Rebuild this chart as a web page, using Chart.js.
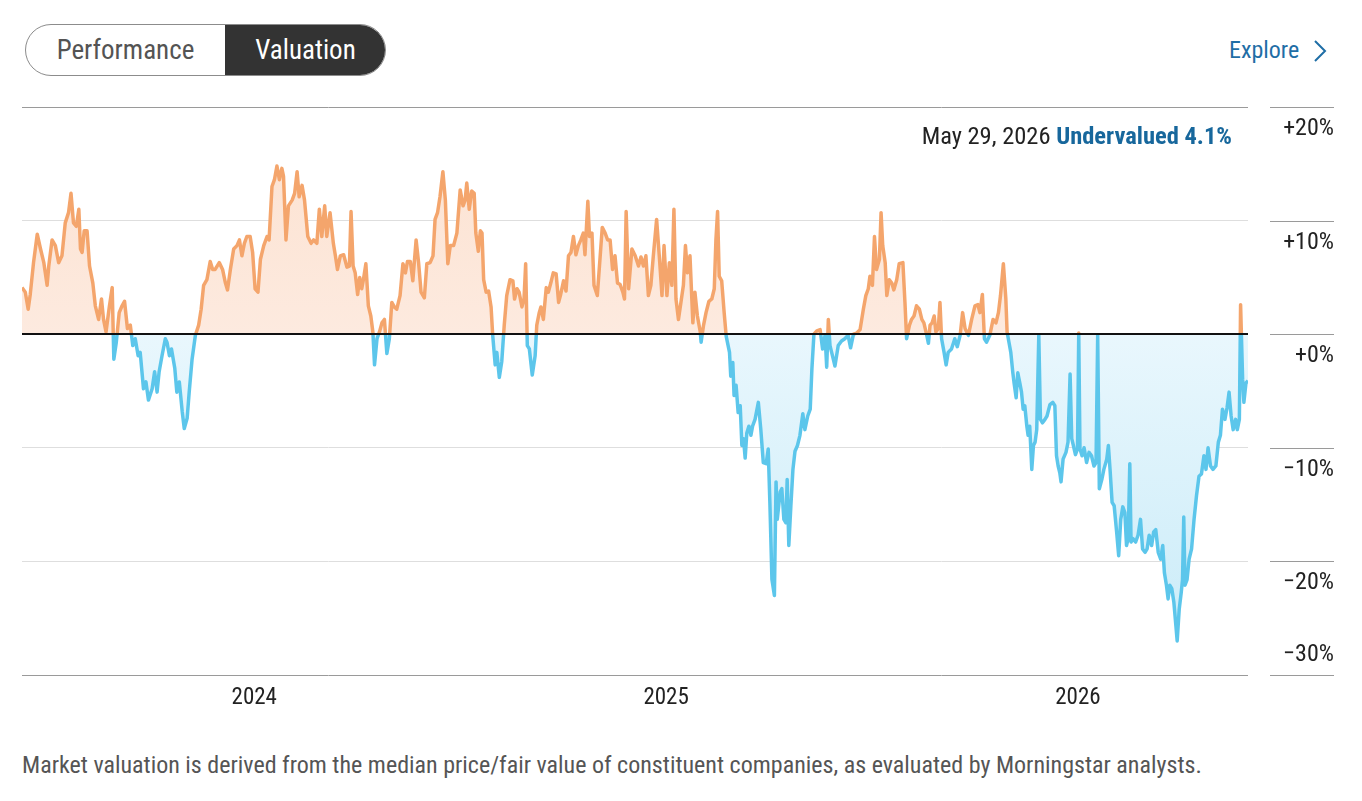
<!DOCTYPE html>
<html>
<head>
<meta charset="utf-8">
<script src="https://cdn.jsdelivr.net/npm/chart.js@4.4.1/dist/chart.umd.min.js"></script>
<style>
  html, body { margin:0; padding:0; background:#fff; }
  body { width:1362px; height:801px; position:relative; overflow:hidden;
         font-family: "Roboto Condensed", "DejaVu Sans Condensed", "Liberation Sans", sans-serif; }
  .toggle { position:absolute; left:25px; top:24px; width:361px; height:52px; box-sizing:border-box;
            border:1px solid #8c8c8c; border-radius:26px; overflow:hidden; }
  .toggle .perf { position:absolute; left:0; top:0; width:199px; height:50px; line-height:50px;
                  text-align:center; color:#545454; font-size:27px; }
  .toggle .val { position:absolute; left:199px; top:-1px; right:-1px; bottom:-1px; background:#333;
                 color:#fff; font-size:27px; text-align:center; line-height:52px; border-radius:0 26px 26px 0; }
  .explore { position:absolute; left:1229px; top:34px; color:#1f6ea6; font-size:24px; line-height:32px; }
  .chev { position:absolute; left:1312px; top:39px; }
  #wrap { position:absolute; left:0; top:90px; width:1362px; height:640px; }
  .note { position:absolute; right:130px; top:121px; font-size:24.5px; line-height:30px; color:#222; white-space:nowrap; }
  .note b { color:#17679c; }
  .foot { position:absolute; left:22px; top:752px; font-size:24px; line-height:26px; color:#555; white-space:nowrap; }
</style>
</head>
<body>
<div class="toggle"><div class="perf">Performance</div><div class="val">Valuation</div></div>
<div class="explore">Explore</div>
<svg class="chev" width="16" height="24" viewBox="0 0 16 24"><polyline points="3,2 13,12 3,22" fill="none" stroke="#1f6ea6" stroke-width="2"/></svg>
<div id="wrap"><canvas id="c" width="1362" height="640"></canvas></div>
<div class="note">May 29, 2026 <b>Undervalued 4.1%</b></div>
<div class="foot">Market valuation is derived from the median price/fair value of constituent companies, as evaluated by Morningstar analysts.</div>
<script>
const FONT = '"Roboto Condensed", "DejaVu Sans Condensed", "Liberation Sans", sans-serif';

// decimal-year dates of each observation
const dates = [
2023.436,2023.444,2023.451,2023.456,2023.464,2023.473,2023.481,2023.489,2023.497,2023.501,
2023.509,2023.517,2023.525,2023.533,2023.541,2023.549,2023.555,2023.561,2023.568,2023.574,
2023.578,2023.582,2023.587,2023.594,2023.600,2023.608,2023.614,2023.622,2023.629,2023.634,
2023.640,2023.648,2023.655,2023.659,2023.665,2023.672,2023.679,2023.685,2023.692,2023.699,
2023.705,2023.711,2023.718,2023.723,2023.731,2023.737,2023.743,2023.752,2023.758,2023.764,
2023.769,2023.776,2023.784,2023.788,2023.794,2023.799,2023.807,2023.812,2023.818,2023.825,
2023.830,2023.837,2023.842,2023.849,2023.857,2023.865,2023.871,2023.877,2023.885,2023.893,
2023.899,2023.905,2023.915,2023.923,2023.930,2023.935,2023.942,2023.950,2023.958,2023.964,
2023.970,2023.976,2023.982,2023.990,2023.996,2024.002,2024.009,2024.015,2024.023,2024.031,
2024.036,2024.043,2024.049,2024.055,2024.061,2024.067,2024.071,2024.077,2024.083,2024.092,
2024.098,2024.104,2024.109,2024.116,2024.122,2024.130,2024.138,2024.144,2024.152,2024.158,
2024.164,2024.171,2024.176,2024.184,2024.192,2024.197,2024.202,2024.209,2024.217,2024.225,
2024.231,2024.235,2024.240,2024.245,2024.251,2024.256,2024.261,2024.265,2024.271,2024.277,
2024.283,2024.288,2024.292,2024.298,2024.304,2024.310,2024.316,2024.322,2024.328,2024.334,
2024.340,2024.346,2024.354,2024.361,2024.367,2024.372,2024.379,2024.385,2024.393,2024.399,
2024.405,2024.413,2024.419,2024.427,2024.434,2024.439,2024.445,2024.451,2024.458,2024.464,
2024.470,2024.476,2024.484,2024.492,2024.500,2024.507,2024.512,2024.516,2024.522,2024.528,
2024.534,2024.538,2024.544,2024.549,2024.553,2024.557,2024.563,2024.569,2024.575,2024.579,
2024.585,2024.589,2024.595,2024.601,2024.607,2024.613,2024.621,2024.628,2024.632,2024.638,
2024.643,2024.650,2024.655,2024.659,2024.663,2024.668,2024.675,2024.682,2024.686,2024.692,
2024.696,2024.702,2024.709,2024.714,2024.720,2024.726,2024.733,2024.739,2024.744,2024.751,
2024.757,2024.763,2024.769,2024.775,2024.781,2024.787,2024.793,2024.799,2024.803,2024.810,
2024.814,2024.820,2024.825,2024.833,2024.840,2024.845,2024.852,2024.858,2024.864,2024.870,
2024.876,2024.882,2024.888,2024.895,2024.899,2024.903,2024.909,2024.917,2024.925,2024.933,
2024.939,2024.945,2024.951,2024.957,2024.963,2024.969,2024.977,2024.984,2024.990,2024.995,
2025.002,2025.008,2025.014,2025.019,2025.024,2025.030,2025.036,2025.042,2025.047,2025.052,
2025.058,2025.065,2025.070,2025.076,2025.083,2025.085,2025.091,2025.097,2025.104,2025.111,
2025.117,2025.121,2025.125,2025.129,2025.135,2025.141,2025.146,2025.154,2025.157,2025.162,
2025.165,2025.170,2025.175,2025.180,2025.184,2025.188,2025.192,2025.196,2025.201,2025.206,
2025.210,2025.216,2025.224,2025.230,2025.236,2025.243,2025.248,2025.252,2025.257,2025.263,
2025.267,2025.270,2025.277,2025.281,2025.286,2025.291,2025.294,2025.298,2025.303,2025.308,
2025.313,2025.319,2025.325,2025.332,2025.337,2025.344,2025.350,2025.354,2025.359,2025.366,
2025.374,2025.380,2025.386,2025.390,2025.394,2025.398,2025.406,2025.410,2025.418,2025.426,
2025.434,2025.442,2025.448,2025.455,2025.463,2025.471,2025.479,2025.485,2025.491,2025.495,
2025.501,2025.506,2025.511,2025.518,2025.522,2025.526,2025.532,2025.536,2025.542,2025.548,
2025.553,2025.560,2025.566,2025.575,2025.580,2025.584,2025.591,2025.596,2025.602,2025.608,
2025.615,2025.621,2025.626,2025.633,2025.637,2025.641,2025.646,2025.651,2025.655,2025.661,
2025.665,2025.669,2025.675,2025.680,2025.685,2025.693,2025.701,2025.707,2025.714,2025.720,
2025.726,2025.734,2025.742,2025.750,2025.757,2025.762,2025.768,2025.773,2025.778,2025.786,
2025.794,2025.801,2025.807,2025.812,2025.819,2025.825,2025.828,2025.833,2025.837,2025.842,
2025.845,2025.850,2025.854,2025.859,2025.863,2025.867,2025.871,2025.876,2025.879,2025.883,
2025.888,2025.892,2025.896,2025.900,2025.905,2025.909,2025.914,2025.920,2025.925,2025.932,
2025.939,2025.944,2025.948,2025.952,2025.956,2025.959,2025.964,2025.971,2025.976,2025.981,
2025.985,2025.989,2025.994,2025.999,2026.002,2026.005,2026.010,2026.015,2026.021,2026.027,
2026.033,2026.039,2026.044,2026.048,2026.052,2026.058,2026.063,2026.070,2026.074,2026.078,
2026.083,2026.088,2026.094,2026.099,2026.104,2026.109,2026.114,2026.118,2026.122,2026.126,
2026.129,2026.134,2026.140,2026.146,2026.152,2026.157,2026.163,2026.168,2026.173,2026.179,
2026.184,2026.189,2026.195,2026.201,2026.206,2026.210,2026.215,2026.219,2026.223,2026.228,
2026.233,2026.238,2026.241,2026.246,2026.251,2026.254,2026.257,2026.260,2026.265,2026.270,
2026.276,2026.282,2026.288,2026.294,2026.300,2026.306,2026.311,2026.316,2026.322,2026.328,
2026.335,2026.341,2026.346,2026.351,2026.357,2026.362,2026.367,2026.372,2026.377,2026.383,
2026.387,2026.392,2026.395,2026.400,2026.403,2026.408,2026.413
];

// market valuation: % premium (+) / discount (-) to fair value
const valuation = [
4.1,3.7,2.2,3.5,6.3,8.8,7.5,6.3,4.3,6.0,
8.3,7.8,6.3,6.9,9.8,10.7,12.4,9.8,9.5,11.0,
7.5,7.2,9.1,9.1,6.0,4.5,2.5,1.3,3.1,1.3,
0.2,2.4,4.1,-2.2,-0.7,1.9,2.5,2.9,0.5,0.8,
-1.0,-0.4,-1.9,-1.6,-4.8,-4.2,-5.8,-4.8,-3.3,-5.1,
-3.3,-1.9,-0.4,-0.7,-1.9,-1.3,-3.0,-5.1,-4.2,-6.8,
-8.3,-7.4,-5.1,-2.2,-0.1,0.8,2.2,4.3,4.8,6.4,
5.7,5.7,6.3,5.7,4.5,3.9,5.7,7.5,7.8,8.3,
6.9,8.0,8.6,8.6,7.2,4.0,3.7,6.6,7.8,8.6,
8.3,13.0,13.6,14.8,13.6,14.6,13.9,8.3,11.3,11.8,
12.4,14.3,12.1,13.1,11.8,8.6,8.0,8.3,8.0,11.0,
8.6,11.3,8.6,10.7,8.0,6.9,5.7,6.9,7.0,5.9,
6.0,10.8,6.0,5.4,3.5,5.0,4.0,4.8,6.2,2.5,
1.6,0.2,-2.7,-0.4,0.2,1.0,1.3,-1.7,-0.4,2.8,
2.4,2.2,3.4,6.2,5.4,6.4,6.4,4.7,8.3,6.3,
3.7,3.2,6.2,6.3,6.9,10.1,10.7,12.1,14.3,11.8,
6.2,7.8,7.8,8.9,12.7,11.3,11.8,13.3,11.0,12.6,
12.4,8.9,7.3,9.1,8.9,4.8,3.7,3.8,2.4,-0.1,
-2.7,-1.6,-3.8,-2.4,0.8,3.4,4.8,4.7,3.1,4.0,
3.7,2.4,3.1,6.2,-1.0,-1.3,-3.6,-1.9,0.8,1.9,
2.4,1.3,4.1,3.7,4.5,5.4,5.3,2.8,3.5,4.7,
3.8,6.9,7.2,8.6,7.0,7.8,8.3,8.9,7.0,11.7,
8.6,8.9,4.3,3.4,6.9,9.4,8.9,8.3,8.3,5.7,
6.9,4.5,4.4,3.7,3.1,10.8,4.0,7.5,6.9,6.0,
6.8,6.0,6.9,3.4,4.3,6.9,10.1,6.6,3.4,7.8,
3.4,6.3,4.3,11.0,3.1,1.3,2.8,4.3,7.8,5.4,
6.9,1.0,3.7,1.6,0.2,-0.7,0.8,1.9,2.9,3.1,
4.0,8.3,10.8,5.1,4.7,1.9,-0.2,-1.6,-3.7,-2.5,
-5.4,-4.5,-6.9,-6.3,-9.8,-9.2,-10.9,-8.7,-8.1,-8.9,
-8.1,-7.5,-6.0,-8.4,-11.3,-11.4,-10.1,-14.8,-21.6,-23.0,
-13.0,-16.3,-13.9,-13.6,-16.3,-16.6,-12.8,-18.6,-15.1,-11.9,
-10.3,-9.8,-8.9,-7.0,-8.4,-7.2,-6.6,-3.1,0.0,0.3,
0.4,-1.3,-0.1,-2.9,1.3,-1.0,-2.2,-2.8,-1.0,-0.6,
-0.4,-0.1,-1.2,0.0,0.1,0.4,2.2,3.4,4.0,5.1,
4.3,8.6,5.7,6.6,10.7,7.8,6.3,3.4,4.8,4.5,
3.9,4.8,6.2,6.3,2.8,-0.4,0.8,1.3,1.6,2.5,
2.2,1.3,1.0,-0.1,-0.8,0.8,1.0,1.6,0.2,0.5,
2.8,-0.4,-1.6,-2.7,-1.6,-1.3,-0.4,-1.1,-0.1,1.9,
0.5,-0.1,1.3,2.5,2.6,1.9,3.5,-0.4,-0.7,-0.1,
1.3,1.0,1.9,3.4,6.2,3.1,0.2,-0.8,-1.6,-3.4,
-4.3,-5.6,-3.4,-4.3,-5.1,-6.6,-6.3,-8.1,-8.9,-8.1,
-11.9,-9.8,-9.5,-8.4,-0.1,-7.5,-7.8,-7.5,-7.2,-6.2,
-6.0,-6.3,-10.7,-11.6,-12.2,-13.0,-11.0,-10.4,-9.5,-3.5,
-9.2,-9.8,-10.6,-10.1,0.1,-10.1,-10.7,-10.0,-11.3,-10.4,
-10.7,-11.6,-11.3,-0.1,-13.6,-12.8,-11.9,-11.0,-9.8,-11.9,
-14.8,-15.1,-17.4,-19.5,-16.3,-15.2,-15.7,-18.6,-18.0,-11.4,
-18.3,-18.0,-18.3,-17.7,-16.3,-18.9,-19.2,-18.9,-17.7,-18.6,
-17.4,-17.2,-19.2,-19.8,-18.6,-21.0,-22.1,-23.3,-22.1,-22.4,
-23.6,-25.7,-27.0,-24.2,-22.7,-21.6,-16.1,-22.1,-21.6,-19.8,
-18.9,-16.3,-14.2,-12.5,-12.3,-10.7,-11.9,-10.0,-11.6,-11.9,
-11.6,-9.5,-8.9,-6.6,-7.5,-6.5,-5.1,-7.2,-8.4,-7.5,
-8.4,-7.5,2.6,-4.0,-6.0,-4.3,-4.1
];

const xTickValues = [2024, 2025, 2026];
const xTickLabels = ['2024', '2025', '2026'];
const yTickValues = [20, 10, 0, -10, -20, -30];
const yTickLabels = ['+20%', '+10%', '+0%', '\u221210%', '\u221220%', '\u221230%'];

const ORANGE = '#F4A56C';
const BLUE = '#5CC6EB';

function splitGradient(chart, stops) {
  const {ctx, chartArea, scales} = chart;
  if (!chartArea || !scales.y) return null;
  const y0 = scales.y.getPixelForValue(0);
  const t = Math.min(1, Math.max(0, (y0 - chartArea.top) / (chartArea.bottom - chartArea.top)));
  const g = ctx.createLinearGradient(0, chartArea.top, 0, chartArea.bottom);
  g.addColorStop(0, stops[0]);
  g.addColorStop(t, stops[1]);
  g.addColorStop(t, stops[2]);
  g.addColorStop(1, stops[3]);
  return g;
}

const decor = {
  id: 'decor',
  afterDatasetsDraw(chart) {
    const {ctx, chartArea, scales: {y}} = chart;
    const y0 = Math.round(y.getPixelForValue(0));
    ctx.save();
    ctx.strokeStyle = '#111';
    ctx.lineWidth = 2;
    ctx.beginPath();
    ctx.moveTo(chartArea.left, y0);
    ctx.lineTo(chartArea.right, y0);
    ctx.stroke();
    // right-hand tick segments and labels
    ctx.font = '24px ' + FONT;
    ctx.fillStyle = '#222';
    ctx.textAlign = 'right';
    ctx.textBaseline = 'middle';
    yTickValues.forEach((v, i) => {
      const py = Math.round(y.getPixelForValue(v)) + 0.5;
      ctx.strokeStyle = '#9a9a9a';
      ctx.lineWidth = 1;
      ctx.beginPath();
      ctx.moveTo(chartArea.right + 22, py);
      ctx.lineTo(chartArea.right + 86, py);
      ctx.stroke();
      const below = py + 21 < chartArea.bottom;
      ctx.fillText(yTickLabels[i], chartArea.right + 86, below ? py + 21 : py - 21);
    });
    ctx.restore();
  }
};

new Chart(document.getElementById('c'), {
  type: 'line',
  data: {
    labels: dates,
    datasets: [{
      data: dates.map((d, i) => ({x: d, y: valuation[i]})),
      borderWidth: 3.5,
      borderColor: (c) => splitGradient(c.chart, [ORANGE, ORANGE, BLUE, BLUE]) || ORANGE,
      backgroundColor: (c) => splitGradient(c.chart, ['#FCE1CF', '#FDEADF', '#E9F7FD', '#C8EBF8']) || '#FDEADF',
      fill: 'origin',
      pointRadius: 0,
      tension: 0,
      borderJoinStyle: 'round'
    }]
  },
  options: {
    responsive: false,
    animation: false,
    layout: { padding: { top: 17, left: 22, right: 0, bottom: 0 } },
    plugins: { legend: { display: false }, tooltip: { enabled: false } },
    scales: {
      x: {
        type: 'linear',
        min: dates[0],
        max: dates[dates.length - 1],
        afterBuildTicks: (s) => { s.ticks = xTickValues.map(v => ({value: v})); },
        afterFit: (s) => { s.height = 55; },
        ticks: {
          callback: (v) => xTickLabels[xTickValues.indexOf(v)],
          font: { family: FONT, size: 23 },
          color: '#222',
          padding: 9,
          maxRotation: 0,
          autoSkip: false
        },
        grid: { display: false, drawTicks: false },
        border: { display: false }
      },
      y: {
        type: 'linear',
        position: 'right',
        min: -30,
        max: 20,
        afterBuildTicks: (s) => { s.ticks = yTickValues.map(v => ({value: v})); },
        afterFit: (s) => { s.width = 114; },
        ticks: { display: false },
        grid: {
          drawTicks: false,
          lineWidth: 1,
          color: (c) => (c.tick && (c.tick.value === 20 || c.tick.value === -30)) ? '#9a9a9a' : '#dedede'
        },
        border: { display: false }
      }
    }
  },
  plugins: [decor]
});
</script>
</body>
</html>
